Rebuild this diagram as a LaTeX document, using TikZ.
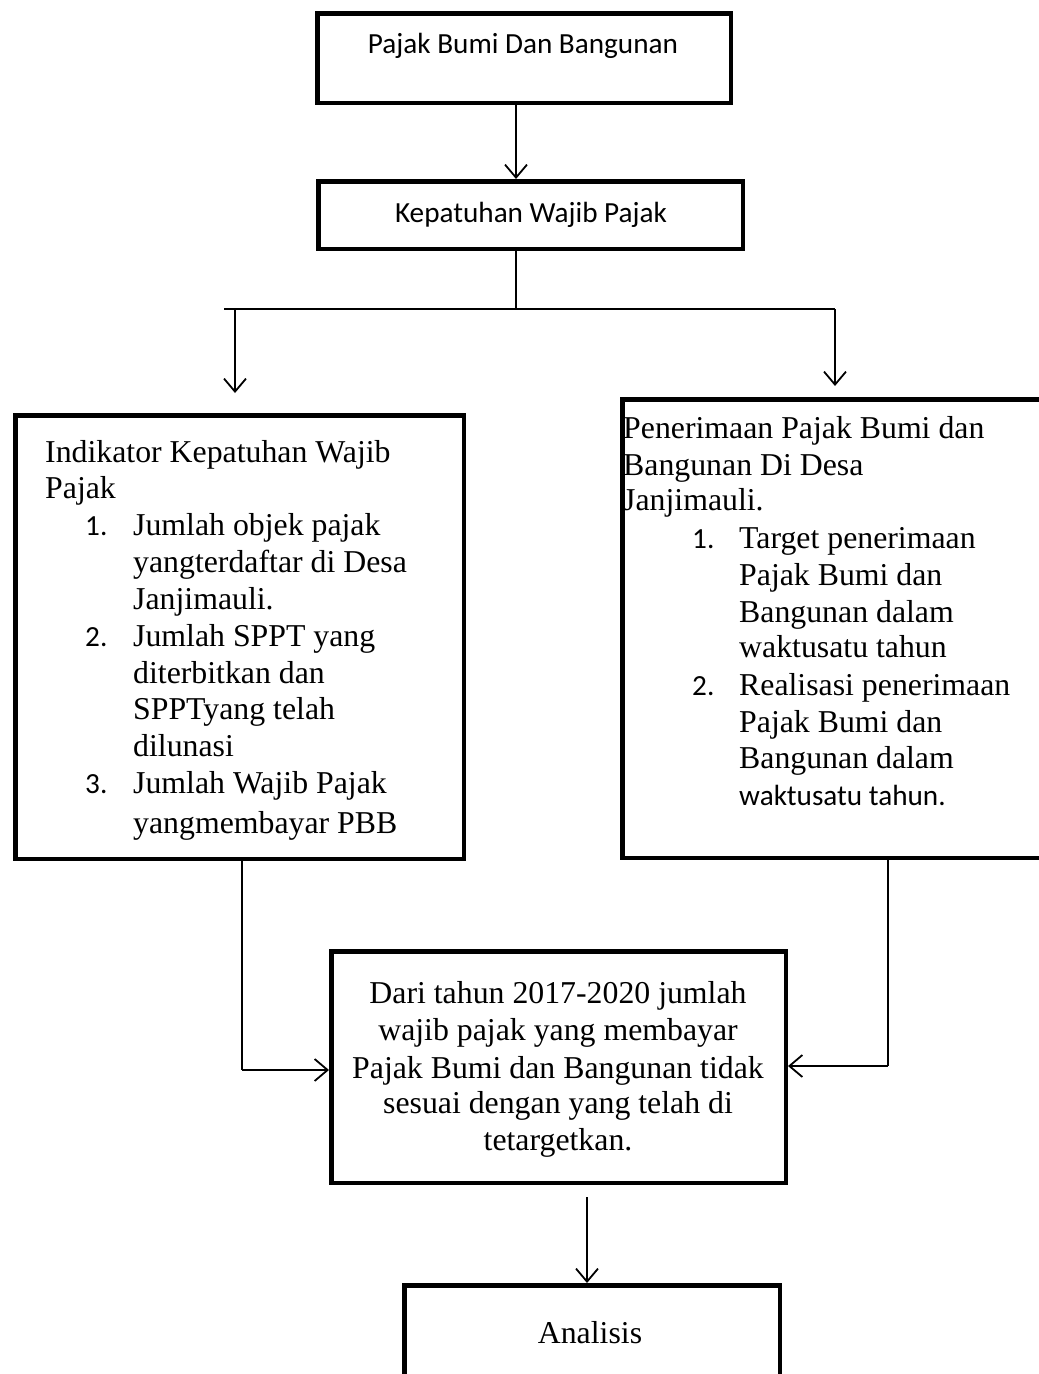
\documentclass[tikz,border=0pt]{standalone}
\usepackage{fontspec}
\setmainfont{Liberation Serif}
\newfontfamily\calibri{Carlito}
\usetikzlibrary{arrows.meta}
\begin{document}
\begin{tikzpicture}[x=1pt,y=-1pt,
  box/.style={draw, line width=4.5pt, rectangle, inner sep=0pt, anchor=north west},
  conn/.style={line width=1.8pt},
  arr/.style={conn, -{Straight Barb[length=13pt,width=22pt]}},
  tnr/.style={inner sep=0pt, anchor=base west, font=\fontsize{31.8}{36.6}\selectfont},
  tnrc/.style={tnr, anchor=base},
  cal/.style={inner sep=0pt, anchor=base west, font=\calibri\fontsize{29.2}{35}\selectfont},
  calc/.style={cal, anchor=base},
]
\path[use as bounding box, clip] (0,0) rectangle (1039,1374);

% boxes
\node[box, minimum width=413.5pt, minimum height=89.5pt] (b1) at (315,11) {};
\node[box, minimum width=424.5pt, minimum height=67.5pt] (b2) at (316,179) {};
\node[box, minimum width=448.5pt, minimum height=443.5pt] (lb) at (13,413) {};
\node[box, minimum width=435.5pt, minimum height=458.5pt] (rb) at (620,397) {};
\node[box, minimum width=454.5pt, minimum height=231.5pt] (mb) at (329,949) {};
\node[box, minimum width=375.5pt, minimum height=140pt] (ab) at (402,1283) {};

% titles
\node[calc] (t1) at (523,53) {Pajak Bumi Dan Bangunan};
\node[calc] (t2) at (531,222) {Kepatuhan Wajib Pajak};

% left box text
\node[tnr] (lh1) at (45,462) {Indikator Kepatuhan Wajib};
\node[tnr] (lh2) at (45,498) {Pajak};
\node[cal] (ln1) at (85,535) {1.};
\node[cal] (ln2) at (85,646) {2.};
\node[cal] (ln3) at (85,793) {3.};
\foreach \yy/\txt [count=\i] in {535/Jumlah objek pajak, 572/yangterdaftar di Desa,
  609/Janjimauli., 646/Jumlah SPPT yang, 683/diterbitkan dan, 719/SPPTyang telah,
  756/dilunasi, 793/Jumlah Wajib Pajak, 833/yangmembayar PBB}
  \node[tnr] (lt\i) at (133,\yy) {\txt};

% right box text
\node[tnr] (rh1) at (623,438) {Penerimaan Pajak Bumi dan};
\node[tnr] (rh2) at (623,475) {Bangunan Di Desa};
\node[tnr] (rh3) at (623,510) {Janjimauli.};
\node[cal] (rn1) at (692,548) {1.};
\node[cal] (rn2) at (692,695) {2.};
\foreach \yy/\txt [count=\i] in {548/Target penerimaan, 585/Pajak Bumi dan,
  622/Bangunan dalam, 657/waktusatu tahun, 695/Realisasi penerimaan,
  732/Pajak Bumi dan, 768/Bangunan dalam}
  \node[tnr] (rt\i) at (739,\yy) {\txt};
\node[cal] (rt8) at (739,805) {waktusatu tahun.};

% middle box text
\foreach \yy/\txt [count=\i] in {1003/Dari tahun 2017-2020 jumlah, 1040/wajib pajak yang membayar,
  1078/Pajak Bumi dan Bangunan tidak, 1113/sesuai dengan yang telah di, 1150/tetargetkan.}
  \node[tnrc] (mt\i) at (558,\yy) {\txt};

\node[tnrc] (at) at (590,1343) {Analisis};

% connectors
\coordinate (c1) at (516,0);
\draw[arr] (b1.south -| c1) -- (b2.north -| c1);
\coordinate (j) at (516,309);
\coordinate (hl) at (224,309);
\coordinate (hr) at (835,309);
\coordinate (la) at (235,309);
\coordinate (lt) at (235,393);
\coordinate (rtip) at (835,386);
\draw[conn] (b2.south -| c1) -- (j);
\draw[conn] (hl) -- (hr);
\draw[arr] (la) -- (lt);
\draw[arr] (hr) -- (rtip);

\coordinate (lc) at (242,1070);
\draw[conn] (lb.south -| lc) -- (lc);
\draw[arr] (lc) -- (mb.west |- lc);
\coordinate (rc) at (888,1066);
\draw[conn] (rb.south -| rc) -- (rc);
\draw[arr] (rc) -- (mb.east |- rc);

\coordinate (bc) at (587,1197);
\draw[arr] (bc) -- (ab.north -| bc);
\end{tikzpicture}
\end{document}
